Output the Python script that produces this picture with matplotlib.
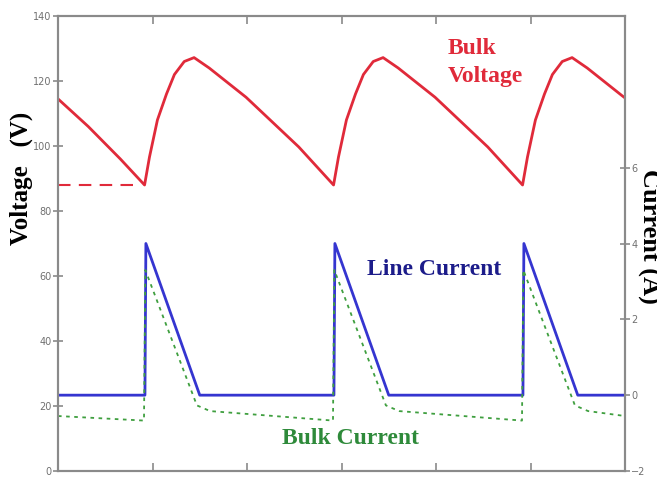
import matplotlib
matplotlib.use("Agg")
import matplotlib.pyplot as plt

# time axis in ms (half-period of the rectified line = 10 ms)
t_volt = [0, 1.6, 3.3, 4.58, 4.84, 5.26, 5.74, 6.16, 6.68, 7.2, 8.0, 9.95, 12.74,
          14.58, 14.84, 15.26, 15.74, 16.16, 16.68, 17.2, 18.0, 19.95, 22.74,
          24.58, 24.84, 25.26, 25.74, 26.16, 26.68, 27.2, 28.0, 29.84, 30]
bulk_volt = [114.5, 106, 96, 88, 96.6, 108, 116, 122, 126, 127.2, 124, 115, 99.7,
             88, 96.6, 108, 116, 122, 126, 127.2, 124, 115, 99.7,
             88, 96.6, 108, 116, 122, 126, 127.2, 124, 115.5, 114.8]

t_min = [0, 4.4]
v_min = [88, 88]

t_line = [0, 4.6, 4.65, 7.5, 14.6, 14.65, 17.5, 24.6, 24.65, 27.5, 30]
line_cur = [0, 0, 4.0, 0, 0, 4.0, 0, 0, 4.0, 0, 0]

t_bulk = [0, 4.55, 4.62, 7.35, 8.05, 14.55, 14.62, 17.35, 18.05, 24.55, 24.62, 27.35, 28.05, 30]
bulk_cur = [-0.55, -0.67, 3.3, -0.27, -0.42, -0.67, 3.3, -0.27, -0.42, -0.67, 3.3, -0.27, -0.42, -0.55]

volt_ticks = [0, 20, 40, 60, 80, 100, 120, 140]
cur_ticks = [-2, 0, 2, 4, 6]
time_ticks = [5, 10, 15, 20, 25]

red = "#e02a3a"
blue = "#3535d0"
green = "#3f9f3f"
grey = "#8a8a8a"
serif = "Liberation Serif"

fig = plt.figure(figsize=(6.57, 4.79), dpi=100)
ax = fig.add_axes([58 / 657, 8 / 479, 567 / 657, 455 / 479])
ax2 = ax.twinx()

ax.plot(t_volt, bulk_volt, color=red, lw=2)
ax.plot(t_min, v_min, color=red, lw=1.5, ls=(0, (6, 4)))
ax2.plot(t_line, line_cur, color=blue, lw=2)
ax2.plot(t_bulk, bulk_cur, color=green, lw=1.3, ls=(0, (2, 2.5)))

ax.set_xlim(0, 30)
ax.set_ylim(0, 140)
ax2.set_ylim(-2, 10)
ax.set_xticks(time_ticks)
ax.set_xticklabels([])
ax.set_yticks(volt_ticks)
ax2.set_yticks(cur_ticks)

for a in (ax, ax2):
    for s in a.spines.values():
        s.set_color(grey)
        s.set_linewidth(1.5)
    a.tick_params(axis="y", direction="inout", length=7, width=1.2, color=grey,
                  labelsize=7, labelcolor="#707070", pad=1)
ax.tick_params(axis="x", direction="in", length=6, width=1.2, color=grey, top=True)

ax.text(20.6, 130, "Bulk", color=red, fontsize=17, fontweight="bold",
        family=serif, ha="left", va="center")
ax.text(20.6, 121.5, "Voltage", color=red, fontsize=17, fontweight="bold",
        family=serif, ha="left", va="center")
ax.text(19.9, 62, "Line Current", color="#1c1c8a", fontsize=17, fontweight="bold",
        family=serif, ha="center", va="center")
ax.text(15.45, 10, "Bulk Current", color="#2e8a3a", fontsize=17, fontweight="bold",
        family=serif, ha="center", va="center")

fig.text(21 / 657, 1 - 178 / 479, "Voltage   (V)", rotation=90, fontsize=18,
         fontweight="bold", family=serif, ha="center", va="center")
fig.text(637 / 657, 1 - 236 / 479, "Current (A)", rotation=270, fontsize=19,
         fontweight="bold", family=serif, ha="left", va="center")

fig.savefig("out.png", dpi=100)
